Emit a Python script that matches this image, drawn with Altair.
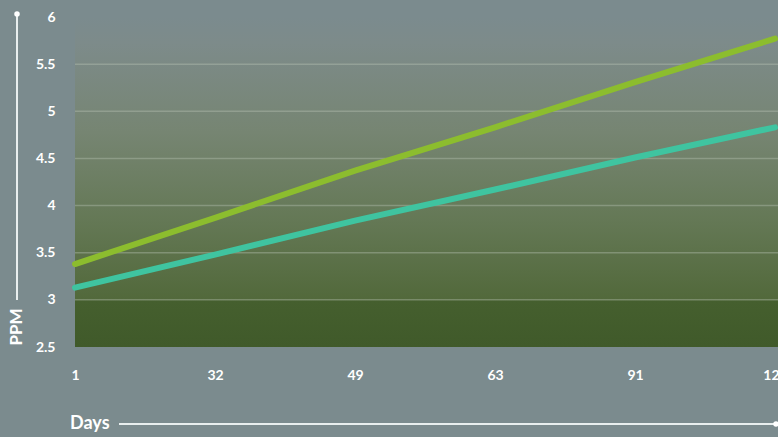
import altair as alt
import pandas as pd

# Sampling days and measured concentrations (PPM)
days = ["1", "32", "49", "63", "91", "126"]
series_a = [3.38, 3.87, 4.37, 4.83, 5.31, 5.77]
series_b = [3.13, 3.48, 3.84, 4.17, 4.51, 4.83]
y_ticks = [2.5, 3, 3.5, 4, 4.5, 5, 5.5, 6]

W, H = 700, 330
BG = "#7b8b8e"
FONT = "Lato"

rows = []
for d, a, b in zip(days, series_a, series_b):
    rows.append({"day": d, "ppm": a, "series": "A"})
    rows.append({"day": d, "ppm": b, "series": "B"})
df = pd.DataFrame(rows)

x_enc = alt.X(
    "day:O",
    sort=days,
    scale=alt.Scale(type="point", padding=0),
    axis=alt.Axis(
        title=None, labelAngle=0, labelColor="white", labelFont=FONT,
        labelFontSize=14, labelFontWeight="bold", labelPadding=21,
        ticks=False, domain=False, grid=False,
    ),
)
y_scale = alt.Scale(domain=[2.5, 6], nice=False, zero=False)
y_enc = alt.Y(
    "ppm:Q",
    scale=y_scale,
    axis=alt.Axis(
        title=None, values=y_ticks, format="~g", labelColor="white",
        labelFont=FONT, labelFontSize=14, labelFontWeight="bold",
        labelPadding=20, ticks=False, domain=False, grid=False,
    ),
)

# Plot background: grey at the top fading into dark green
backdrop = alt.Chart(pd.DataFrame({"k": [0]})).mark_rect(
    fill={
        "gradient": "linear", "x1": 0, "y1": 0, "x2": 0, "y2": 1,
        "stops": [
            {"offset": 0.0, "color": BG},
            {"offset": 0.08, "color": "#7d8b8a"},
            {"offset": 0.35, "color": "#768572"},
            {"offset": 0.62, "color": "#647855"},
            {"offset": 0.855, "color": "#52693b"},
            {"offset": 0.86, "color": "#455f2e"},
            {"offset": 1.0, "color": "#405a2a"},
        ],
    }
).encode(x=alt.value(0), x2=alt.value(W + 3), y=alt.value(0), y2=alt.value(H))

# Horizontal grid lines above the backdrop
grid = alt.Chart(pd.DataFrame({"ppm": y_ticks[1:-1]})).mark_rule(
    color="#b9c2b4", opacity=0.4, strokeWidth=1.5
).encode(y=alt.Y("ppm:Q", scale=y_scale), x=alt.value(0), x2=alt.value(W + 3))

lines = alt.Chart(df).mark_line(strokeWidth=6, strokeCap="round").encode(
    x=x_enc,
    y=y_enc,
    color=alt.Color(
        "series:N",
        scale=alt.Scale(domain=["A", "B"], range=["#8cbd2e", "#3fc4a0"]),
        legend=None,
    ),
)

# Decorative axis guides with their titles
guide_df = pd.DataFrame({"k": [0]})
v_rule = alt.Chart(guide_df).mark_rule(color="#e8eeee", strokeWidth=2).encode(
    x=alt.value(-58), y=alt.value(-3), y2=alt.value(283)
)
v_dot = alt.Chart(guide_df).mark_point(filled=True, color="white", size=30, opacity=1).encode(
    x=alt.value(-58), y=alt.value(-3)
)
ppm_txt = alt.Chart(guide_df).mark_text(
    text="PPM", angle=270, color="white", font=FONT, fontSize=17,
    fontWeight="bold", align="center", baseline="middle",
).encode(x=alt.value(-58), y=alt.value(310))

h_rule = alt.Chart(guide_df).mark_rule(color="#e8eeee", strokeWidth=2).encode(
    x=alt.value(44), x2=alt.value(W + 2), y=alt.value(H + 77)
)
h_dot = alt.Chart(guide_df).mark_point(filled=True, color="white", size=30, opacity=1).encode(
    x=alt.value(W + 1), y=alt.value(H + 77)
)
days_txt = alt.Chart(guide_df).mark_text(
    text="Days", color="white", font=FONT, fontSize=18, fontWeight="bold",
    align="left", baseline="middle",
).encode(x=alt.value(-5), y=alt.value(H + 77))

chart = alt.layer(
    backdrop, grid, lines, v_rule, v_dot, ppm_txt, h_rule, h_dot, days_txt
).properties(
    width=W, height=H, background=BG,
    padding={"left": 75, "top": 17, "right": 3, "bottom": 90},
    autosize=alt.AutoSizeParams(type="none"),
).configure_view(stroke=None)

chart.save("out.html", embed_options={"renderer": "svg", "actions": False})
